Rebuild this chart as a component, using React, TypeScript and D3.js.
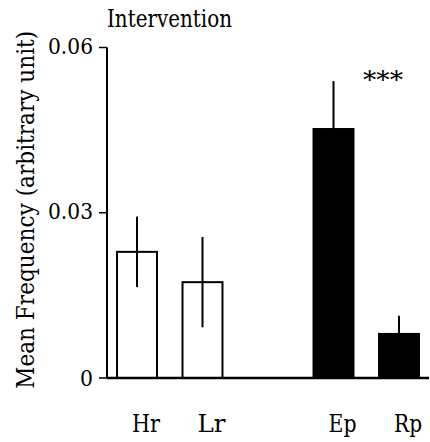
import React from "react";
import * as d3 from "d3";

const categories = ["Hr", "Lr", "Ep", "Rp"];
const slots = ["Hr", "Lr", "gap", "Ep", "Rp"];
const means = [0.0229, 0.0174, 0.0452, 0.008];
const errors = [0.0064, 0.0082, 0.0087, 0.0033];
const groups = ["rest", "rest", "period", "period"];
const yTicks = [0, 0.03, 0.06];
const yTickLabels = ["0", "0.03", "0.06"];
const title = "Intervention";
const yLabel = "Mean Frequency (arbitrary unit)";
const significance = "***";

const W = 430;
const H = 442;
const FONT = "'DejaVu Serif', serif";
const textStyle = { fontFamily: FONT } as React.CSSProperties;

// Squeeze the wide DejaVu Serif glyphs to Times-like proportions.
const squeeze = (s: string, size: number, ratio = 0.5) => Math.round(s.length * size * ratio);

export default function App() {
  const x = d3
    .scaleBand<string>()
    .domain(slots)
    .range([107, 429])
    .paddingInner(0.39)
    .paddingOuter(0.153);
  const y = d3.scaleLinear().domain([0, 0.06]).range([378, 47.5]);
  const fill = d3
    .scaleOrdinal<string, string>()
    .domain(["rest", "period"])
    .range(["#ffffff", "#000000"]);
  const bw = x.bandwidth();
  const x0 = x.range()[0];
  const x1 = x.range()[1];

  return (
    <svg
      width={W}
      height={H}
      style={{ position: "absolute", left: 0, top: 0, background: "#fff" }}
    >
      <rect x={0} y={0} width={W} height={H} fill="#fff" />
      <text
        x={107}
        y={27}
        fontSize={24}
        fill="#000"
        style={textStyle}
        textLength={125}
        lengthAdjust="spacingAndGlyphs"
      >
        {title}
      </text>
      <g transform={`translate(34, ${(y(0) + y(0.06)) / 2 - 3}) rotate(-90)`}>
        <text
          x={0}
          y={0}
          textAnchor="middle"
          fontSize={24}
          fill="#000"
          style={textStyle}
          textLength={358}
          lengthAdjust="spacingAndGlyphs"
        >
          {yLabel}
        </text>
      </g>
      {categories.map((c, i) => {
        const bx = x(c)!;
        const top = y(means[i]);
        const cx = bx + bw / 2;
        return (
          <g key={c}>
            <rect
              x={bx}
              y={top}
              width={bw}
              height={y(0) - top}
              fill={fill(groups[i])}
              stroke="#000"
              strokeWidth={2}
            />
            <line
              x1={cx}
              x2={cx}
              y1={y(means[i] + errors[i])}
              y2={y(means[i] - errors[i])}
              stroke="#000"
              strokeWidth={2}
            />
          </g>
        );
      })}
      <line x1={x0} x2={x0} y1={y(0.06)} y2={y(0)} stroke="#000" strokeWidth={2} />
      {yTicks.map((t, i) => (
        <g key={t}>
          <line x1={x0 - 8} x2={x0} y1={y(t)} y2={y(t)} stroke="#000" strokeWidth={1.5} />
          <text
            x={x0 - 14}
            y={y(t)}
            dy={t === 0 ? 8 : 6.5}
            textAnchor="end"
            fontSize={23}
            fill="#000"
            style={textStyle}
            textLength={t === 0 ? 13 : 45}
            lengthAdjust="spacingAndGlyphs"
          >
            {yTickLabels[i]}
          </text>
        </g>
      ))}
      <line x1={x0} x2={x1} y1={y(0)} y2={y(0)} stroke="#000" strokeWidth={2.5} />
      {categories.map((c) => (
        <text
          key={c}
          x={x(c)! + bw / 2 + 9}
          y={432}
          textAnchor="middle"
          fontSize={25}
          fill="#000"
          style={textStyle}
          textLength={squeeze(c, 25, 0.56)}
          lengthAdjust="spacingAndGlyphs"
        >
          {c}
        </text>
      ))}
      <text
        x={x("Rp")! + bw / 2 - 16}
        y={y(0.06) + 40}
        textAnchor="middle"
        fontSize={24}
        fill="#000"
        style={textStyle}
        textLength={40}
        lengthAdjust="spacingAndGlyphs"
      >
        {significance}
      </text>
    </svg>
  );
}
